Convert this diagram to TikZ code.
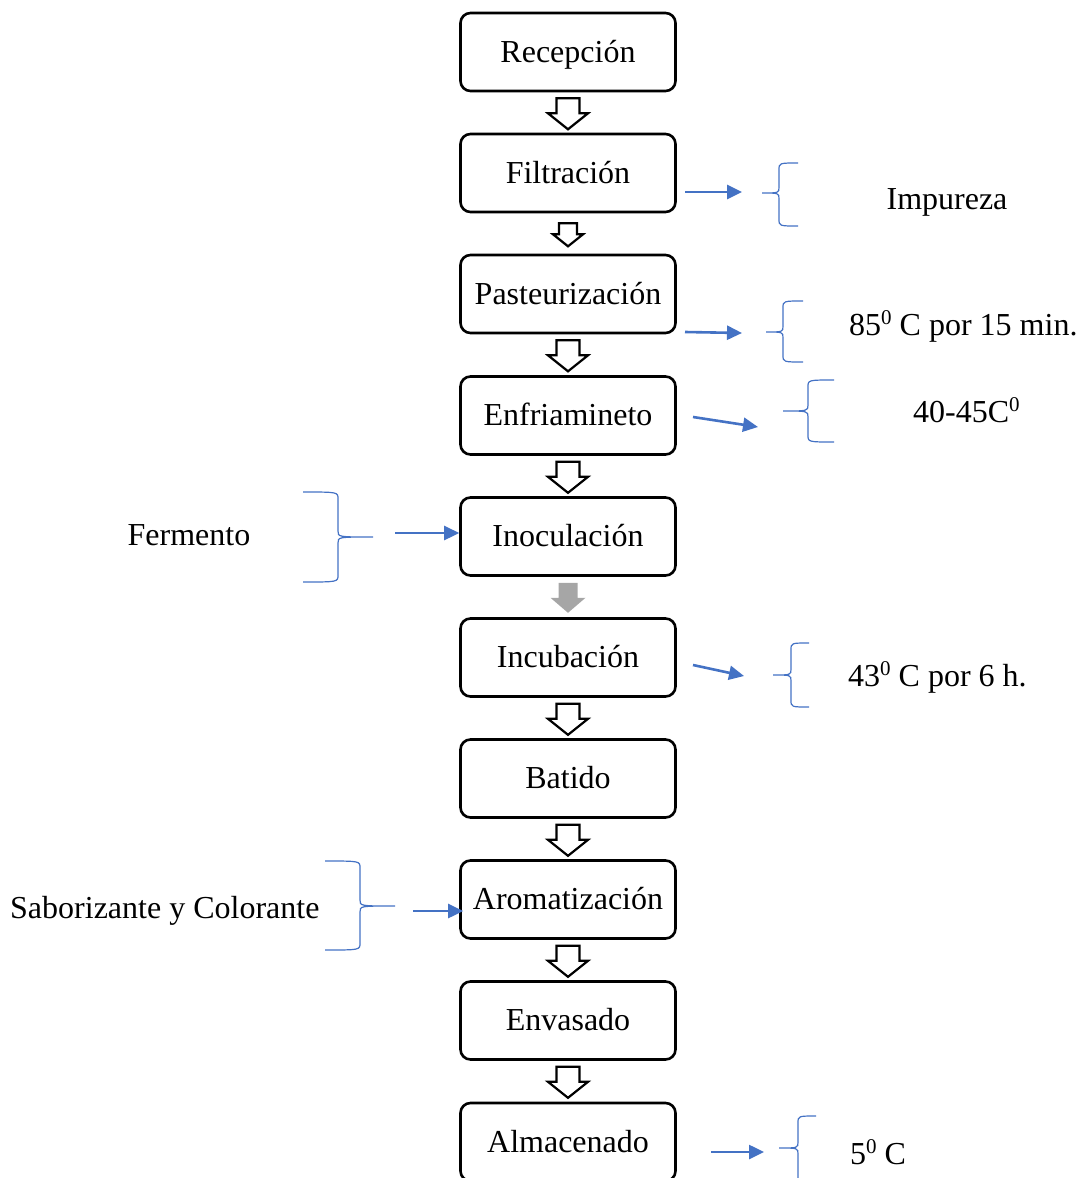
\documentclass[tikz,border=0pt]{standalone}
\usepackage{fontspec}
\setmainfont{Liberation Serif}
\usetikzlibrary{arrows.meta,calc}
\definecolor{bl}{HTML}{4472C4}
\definecolor{gr}{HTML}{A6A6A6}
\newcommand\supz{\raisebox{0.72ex}{\fontsize{21}{21}\selectfont 0}}
% brace: tip x, vertical x, end x, top y, middle y, bottom y
\newcommand\mybrace[6]{%
  \draw[bra] (#3,#4) .. controls (#2,#4) .. (#2,#4+7) -- (#2,#5-6)
    .. controls (#2,#5) .. (#1,#5) .. controls (#2,#5) .. (#2,#5+6)
    -- (#2,#6-7) .. controls (#2,#6) .. (#3,#6);}
\begin{document}
\begin{tikzpicture}[x=1pt,y=-1pt,
  box/.style={draw, line width=2.6pt, rounded corners=10pt, minimum width=215pt,
    minimum height=78pt, inner sep=0pt, text height=25pt, text depth=5pt,
    font=\fontsize{32}{37}\selectfont},
  lbl/.style={inner sep=0pt, font=\fontsize{32}{37}\selectfont},
  bra/.style={draw=bl, line width=1.2pt},
  arr/.style={draw=bl, line width=2.6pt, -{Triangle[length=15pt,width=14pt]}},
  hollow/.style={draw=black, fill=white, line width=2.2pt, line join=miter},
  pics/bigarrow/.style={code={
    \draw[hollow] (-11.5,0) -- (11.5,0) -- (11.5,15) -- (20,15) -- (0,31)
      -- (-20,15) -- (-11.5,15) -- cycle;}},
  pics/smallarrow/.style={code={
    \draw[hollow] (-9,0) -- (9,0) -- (9,11) -- (15,11) -- (0,23)
      -- (-15,11) -- (-9,11) -- cycle;}},
  pics/greyarrow/.style={code={
    \fill[gr] (-9.5,0) -- (9.5,0) -- (9.5,15) -- (17.5,15) -- (0,30)
      -- (-17.5,15) -- (-9.5,15) -- cycle;}}
]
\useasboundingbox (0,0) rectangle (1082,1178);

% process boxes
\node[box] (b1) at (568,52) {Recepción};
\node[box] (b2) at (568,173) {Filtración};
\node[box] (b3) at (568,294) {Pasteurización};
\node[box] (b4) at (568,415.5) {Enfriamineto};
\node[box] (b5) at (568,536.5) {Inoculación};
\node[box] (b6) at (568,657.5) {Incubación};
\node[box] (b7) at (568,778.5) {Batido};
\node[box] (b8) at (568,899.5) {Aromatización};
\node[box] (b9) at (568,1020.5) {Envasado};
\node[box] (b10) at (568,1142) {Almacenado};

% block arrows between boxes
\pic at ($(b1.south)+(0,6)$) {bigarrow};
\pic at ($(b2.south)+(0,10)$) {smallarrow};
\pic at ($(b3.south)+(0,6)$) {bigarrow};
\pic at ($(b4.south)+(0,6)$) {bigarrow};
\pic at ($(b5.south)+(0,6)$) {greyarrow};
\pic at ($(b6.south)+(0,6)$) {bigarrow};
\pic at ($(b7.south)+(0,6)$) {bigarrow};
\pic at ($(b8.south)+(0,6)$) {bigarrow};
\pic at ($(b9.south)+(0,6)$) {bigarrow};

% side labels
\node[lbl, anchor=base] (t2) at (947,209) {Impureza};
\node[lbl, anchor=base west] (t3) at (849,335) {85\supz{} C por 15 min.};
\node[lbl, anchor=base west] (t4) at (913,422) {40-45C\supz};
\node[lbl, anchor=base] (t5) at (189,545) {Fermento};
\node[lbl, anchor=base west] (t6) at (848,686) {43\supz{} C por 6 h.};
\node[lbl, anchor=base west] (t8) at (10,918) {Saborizante y Colorante};
\node[lbl, anchor=base west] (t10) at (850,1164) {5\supz{} C};

% braces
\mybrace{762}{779}{798}{163}{193}{226}
\mybrace{766}{783}{803}{301}{332}{362}
\mybrace{783}{808}{834}{380}{411}{442}
\mybrace{373}{338}{303}{492}{537}{582}
\mybrace{773}{791}{809}{643}{675}{707}
\mybrace{395}{360}{325}{861}{906}{950}
\mybrace{779}{798}{816}{1116}{1148}{1182}

% blue arrows
\coordinate (a2s) at (685,192);  \coordinate (a2e) at (742,192);
\coordinate (a3s) at (685,332);  \coordinate (a3e) at (742,333);
\coordinate (a4s) at (693,417);  \coordinate (a4e) at (758,427);
\coordinate (a5s) at (395,533);
\coordinate (a6s) at (693,665);  \coordinate (a6e) at (744,676);
\coordinate (a8s) at (413,911);
\coordinate (a10s) at (711,1152); \coordinate (a10e) at (764,1152);
\draw[arr] (a2s) -- (a2e);
\draw[arr] (a3s) -- (a3e);
\draw[arr] (a4s) -- (a4e);
\draw[arr] (a5s) -- (b5.west |- a5s);
\draw[arr] (a8s) -- ($(b8.west |- a8s)+(4,0)$);
\draw[arr] (a6s) -- (a6e);
\draw[arr] (a10s) -- (a10e);
\end{tikzpicture}
\end{document}
